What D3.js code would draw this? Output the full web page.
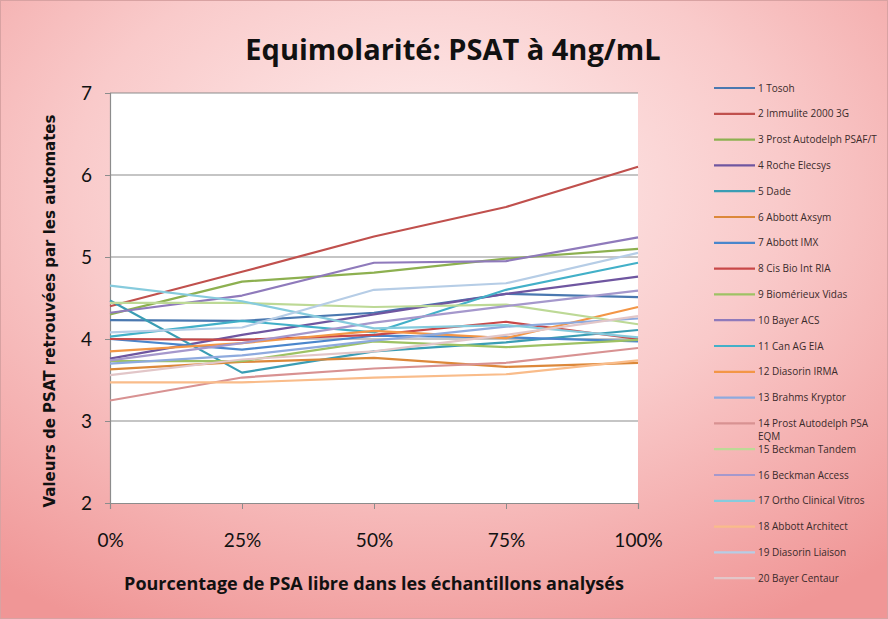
<!DOCTYPE html>
<html><head><meta charset="utf-8">
<script src="https://cdn.jsdelivr.net/npm/d3@7"></script>
<style>body{margin:0;padding:0;overflow:hidden;background:#fff}</style>
</head><body>
<svg id="chart" width="888" height="619"></svg>
<script>
const categories = ["0%", "25%", "50%", "75%", "100%"];
const yTicks = [2, 3, 4, 5, 6, 7];
const seriesNames = [
  "1 Tosoh", "2 Immulite 2000 3G", "3 Prost Autodelph PSAF/T", "4 Roche Elecsys", "5 Dade",
  "6 Abbott Axsym", "7 Abbott IMX", "8 Cis Bio Int RIA", "9 Biomérieux Vidas", "10 Bayer ACS",
  "11 Can AG EIA", "12 Diasorin IRMA", "13 Brahms Kryptor", "14 Prost Autodelph PSA EQM", "15 Beckman Tandem",
  "16 Beckman Access", "17 Ortho Clinical Vitros", "18 Abbott Architect", "19 Diasorin Liaison", "20 Bayer Centaur"
];
const seriesColors = [
  "#4a78b0", "#c0504d", "#8db050", "#6f56a0", "#3a9db4",
  "#dc883a", "#4a86cc", "#c84848", "#9ec264", "#8f7abb",
  "#42b0c8", "#f39646", "#8eaade", "#d89292", "#bdd996",
  "#a598cc", "#86cbdd", "#f9bc8a", "#b6cde6", "#e2c6c8"
];
const s1 = [4.23, 4.22, 4.32, 4.55, 4.51];
const s2 = [4.40, 4.82, 5.25, 5.61, 6.10];
const s3 = [4.30, 4.70, 4.81, 4.98, 5.10];
const s4 = [3.76, 4.05, 4.30, 4.55, 4.76];
const s5 = [4.47, 3.59, 3.85, 3.96, 4.11];
const s6 = [3.63, 3.72, 3.77, 3.66, 3.71];
const s7 = [4.00, 3.87, 4.04, 4.02, 3.97];
const s8 = [4.00, 3.99, 4.05, 4.21, 4.00];
const s9 = [3.73, 3.73, 3.97, 3.90, 3.99];
const s10 = [4.32, 4.53, 4.93, 4.95, 5.24];
const s11 = [4.03, 4.22, 4.08, 4.60, 4.93];
const s12 = [3.85, 3.95, 4.10, 4.01, 4.39];
const s13 = [3.70, 3.80, 3.98, 4.15, 4.25];
const s14 = [3.25, 3.53, 3.64, 3.71, 3.89];
const s15 = [4.44, 4.44, 4.39, 4.42, 4.18];
const s16 = [3.74, 3.95, 4.20, 4.40, 4.59];
const s17 = [4.65, 4.46, 4.13, 4.17, 4.02];
const s18 = [3.47, 3.47, 3.53, 3.57, 3.74];
const s19 = [4.08, 4.14, 4.60, 4.68, 5.05];
const s20 = [3.56, 3.75, 3.85, 4.05, 4.28];
const seriesValues = [s1,s2,s3,s4,s5,s6,s7,s8,s9,s10,s11,s12,s13,s14,s15,s16,s17,s18,s19,s20];

const svg = d3.select("#chart");
const defs = svg.append("defs");
const grad = defs.append("radialGradient").attr("id","bg").attr("cx","48%").attr("cy","30%").attr("r","80%");
grad.append("stop").attr("offset","0%").attr("stop-color","#fff0f0");
grad.append("stop").attr("offset","50%").attr("stop-color","#f9caca");
grad.append("stop").attr("offset","100%").attr("stop-color","#f09696");
svg.append("rect").attr("x",0.5).attr("y",0.5).attr("width",887).attr("height",618)
  .attr("fill","url(#bg)").attr("stroke","#d8a2a2");

const plot = {left:110, right:638, top:93, bottom:503};
const x = d3.scalePoint().domain(categories).range([plot.left, plot.right]).padding(0);
const y = d3.scaleLinear().domain([2,7]).range([plot.bottom, plot.top]);

svg.append("rect").attr("x",plot.left).attr("y",plot.top)
  .attr("width",plot.right-plot.left).attr("height",plot.bottom-plot.top).attr("fill","#ffffff");

// gridlines
svg.append("g").selectAll("line").data(yTicks.filter(d=>d>2)).join("line")
  .attr("x1",plot.left).attr("x2",plot.right).attr("y1",d=>y(d)).attr("y2",d=>y(d))
  .attr("stroke","#8c8c8c").attr("stroke-width",1.2);

// y axis
const yAxis = svg.append("g").attr("transform",`translate(${plot.left},0)`)
  .call(d3.axisLeft(y).tickValues(yTicks).tickSize(5).tickPadding(13).tickFormat(d3.format("d")));
yAxis.select(".domain").attr("stroke","#8c8c8c").attr("stroke-width",1.2);
yAxis.selectAll(".tick line").attr("stroke","#8c8c8c");
yAxis.selectAll("text").attr("font-family","Lato, 'Open Sans', sans-serif").attr("font-size",19).attr("fill","#111");

// x axis
const xAxis = svg.append("g").attr("transform",`translate(0,${plot.bottom})`)
  .call(d3.axisBottom(x).tickSize(6).tickPadding(25));
xAxis.select(".domain").attr("stroke","#8c8c8c").attr("stroke-width",1.2);
xAxis.selectAll(".tick line").attr("stroke","#8c8c8c");
xAxis.selectAll("text").attr("font-family","Lato, 'Open Sans', sans-serif").attr("font-size",19).attr("fill","#111");

// lines
const line = d3.line().x((d,i)=>x(categories[i])).y(d=>y(d));
svg.append("g").selectAll("path").data(seriesValues).join("path")
  .attr("d",d=>line(d)).attr("fill","none")
  .attr("stroke",(d,i)=>seriesColors[i]).attr("stroke-width",2.2)
  .attr("stroke-linejoin","round");

// title
svg.append("text").attr("x",453).attr("y",60).attr("text-anchor","middle")
  .attr("font-family","'Open Sans', sans-serif").attr("font-weight","bold").attr("font-size",29)
  .attr("fill","#111").text("Equimolarité: PSAT à 4ng/mL");

// axis titles
svg.append("text").attr("transform","translate(55,311) rotate(-90)").attr("text-anchor","middle")
  .attr("font-family","'DejaVu Sans', sans-serif").attr("font-weight","bold").attr("font-size",15)
  .attr("fill","#111").text("Valeurs de PSAT  retrouvées par les automates");
svg.append("text").attr("x",374).attr("y",590).attr("text-anchor","middle")
  .attr("font-family","'Open Sans', sans-serif").attr("font-weight","bold").attr("font-size",18)
  .attr("fill","#111").text("Pourcentage de PSA libre dans les échantillons analysés");

// legend
const leg = svg.append("g");
const rowY = i => 88 + i*25.8;
seriesNames.forEach((name,i)=>{
  const g = leg.append("g");
  g.append("line").attr("x1",714).attr("x2",755).attr("y1",rowY(i)).attr("y2",rowY(i))
    .attr("stroke",seriesColors[i]).attr("stroke-width",2.2);
  const t = g.append("text").attr("x",758).attr("y",rowY(i)+3.5)
    .attr("font-family","'Open Sans', sans-serif").attr("font-size",10).attr("fill","#3a2a2a");
  if (name === "14 Prost Autodelph PSA EQM") {
    t.append("tspan").attr("x",758).text("14 Prost Autodelph PSA");
    t.append("tspan").attr("x",758).attr("dy",13).text("EQM");
  } else t.text(name);
});
</script>
</body></html>
